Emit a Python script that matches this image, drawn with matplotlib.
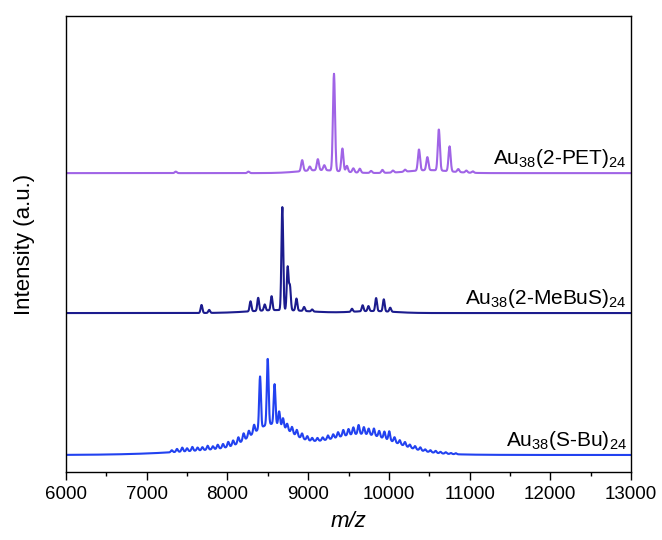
import numpy as np
import matplotlib

matplotlib.use("Agg")
import matplotlib.pyplot as plt
from matplotlib.ticker import MultipleLocator

plt.rcParams["font.family"] = ["Liberation Sans", "DejaVu Sans"]
plt.rcParams["mathtext.fontset"] = "custom"
plt.rcParams["mathtext.rm"] = "Liberation Sans"
plt.rcParams["mathtext.it"] = "Liberation Sans:italic"

# peak tables: m/z centre, height (a.u.)
pet_mz = [7360, 8260, 8926, 9020, 9120, 9200, 9320, 9424, 9480, 9560, 9640,
          9780, 9920, 10050, 10200, 10373, 10477, 10619, 10752, 10860, 10960, 11040]
pet_h = [1.5, 1.5, 11, 4, 11, 5, 97, 23, 6, 4, 4,
         2, 3, 2, 2, 21, 13, 41, 25, 3, 2, 1.5]
pet_bg_mz = [9150, 10500]
pet_bg_h = [3, 3]
pet_bg_w = [250, 250]

mebus_mz = [7679, 7774, 8286, 8381, 8462, 8547, 8680, 8746, 8774, 8855, 8950,
            9050, 9543, 9675, 9747, 9842, 9937, 10017]
mebus_h = [8, 3, 10, 13, 6, 14, 103, 43, 24, 12, 4,
           2, 3, 6, 5, 13, 12, 4]
mebus_bg_mz = [8650, 9800]
mebus_bg_h = [3, 2]
mebus_bg_w = [350, 250]

sbu_mz = [7310, 7375, 7440, 7500, 7565, 7630, 7690, 7755, 7820, 7880, 7945,
          8010, 8070, 8135, 8200, 8265, 8330, 8404, 8499, 8584, 8641, 8689,
          8740, 8800, 8860, 8925, 8990, 9050, 9115, 9180, 9245, 9310, 9370,
          9435, 9500, 9560, 9625, 9690, 9750, 9815, 9880, 9945, 10005, 10070,
          10135, 10200, 10260, 10325, 10390, 10450, 10515, 10580, 10640, 10705,
          10770, 10830]
sbu_h = [2, 3, 4, 3, 4, 3, 3, 4, 3, 4, 4,
         5, 5, 6, 7, 6, 8, 52, 66, 40, 14, 9,
         6, 6, 6, 5, 4, 3, 3, 3, 4, 4, 5,
         6, 6, 7, 9, 7, 6, 7, 6, 7, 9, 5,
         4, 4, 3, 3, 3, 2, 2, 2, 1.5, 1.5,
         1, 1]
sbu_bg_mz = [8550, 9700, 8700]
sbu_bg_h = [22, 16, 9]
sbu_bg_w = [230, 380, 900]

names = ["Au$_{38}$(2-PET)$_{24}$", "Au$_{38}$(2-MeBuS)$_{24}$", "Au$_{38}$(S-Bu)$_{24}$"]
colors = ["#a064e6", "#1c1c8e", "#2242f0"]
offsets = [299, 159, 17]

mz = np.arange(6000, 13001, 2.0)


def spectrum(centres, heights, bg_centres, bg_heights, bg_widths, sigma):
    y = np.zeros_like(mz)
    for c, h in zip(centres, heights):
        y += h * np.exp(-((mz - c) ** 2) / (2 * sigma ** 2))
    for c, h, w in zip(bg_centres, bg_heights, bg_widths):
        y += h * np.exp(-((mz - c) ** 2) / (2 * w ** 2))
    return y


traces = [
    spectrum(pet_mz, pet_h, pet_bg_mz, pet_bg_h, pet_bg_w, 13),
    spectrum(mebus_mz, mebus_h, mebus_bg_mz, mebus_bg_h, mebus_bg_w, 11),
    spectrum(sbu_mz, sbu_h, sbu_bg_mz, sbu_bg_h, sbu_bg_w, 11),
]

fig = plt.figure(figsize=(6.62, 5.4), dpi=100)
ax = fig.add_axes([0.0997, 0.126, 0.8535, 0.844])

for y, off, color, name in zip(traces, offsets, colors, names):
    ax.plot(mz, y + off, color=color, linewidth=1.5)
    ax.text(12950, off + 3, name, ha="right", va="bottom", fontsize=15)

ax.set_xlim(6000, 13000)
ax.set_ylim(0, 456)
ax.xaxis.set_major_locator(MultipleLocator(1000))
ax.xaxis.set_minor_locator(MultipleLocator(500))
ax.tick_params(axis="x", which="major", direction="out", length=6, width=1, labelsize=13.5, pad=4)
ax.tick_params(axis="x", which="minor", direction="out", length=3, width=1)
ax.set_yticks([])
for spine in ax.spines.values():
    spine.set_linewidth(1.0)

ax.set_xlabel("m/z", fontsize=16, style="italic", labelpad=6)
ax.set_ylabel("Intensity (a.u.)", fontsize=16, labelpad=22)

fig.savefig("out.png", dpi=100)
